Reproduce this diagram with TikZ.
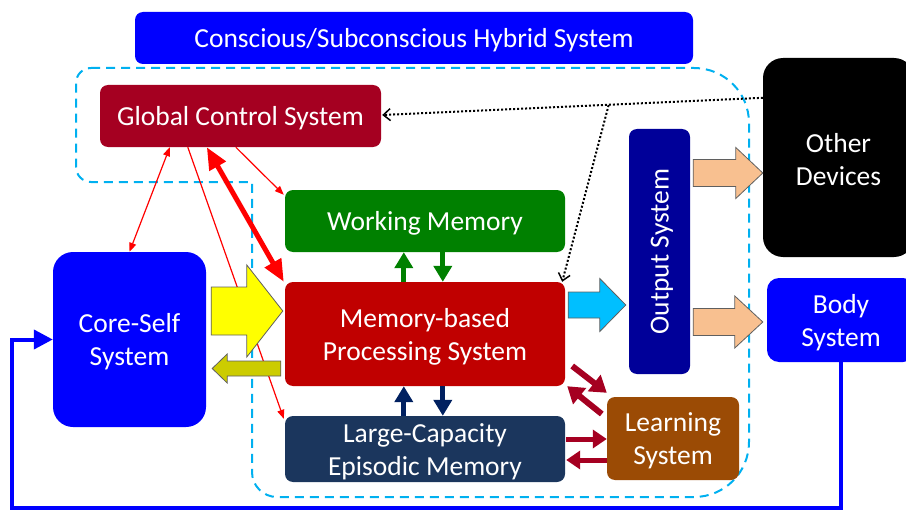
\documentclass[tikz,border=0pt]{standalone}
\usepackage{fontspec}
\setmainfont{Carlito}
\usetikzlibrary{calc,arrows.meta}

\definecolor{pureblue}{RGB}{0,0,255}
\definecolor{gcsred}{RGB}{165,0,33}
\definecolor{wmgreen}{RGB}{0,128,0}
\definecolor{mpred}{RGB}{192,0,0}
\definecolor{lcenavy}{RGB}{27,54,93}
\definecolor{lsbrown}{RGB}{155,75,5}
\definecolor{osblue}{RGB}{0,0,153}
\definecolor{dashcyan}{RGB}{0,176,240}
\definecolor{arrnavy}{RGB}{0,32,96}
\definecolor{yellowfill}{RGB}{255,255,0}
\definecolor{olivefill}{RGB}{204,204,0}
\definecolor{cyanfill}{RGB}{0,191,255}
\definecolor{peachfill}{RGB}{248,192,144}
\definecolor{arrborder}{RGB}{95,95,95}

% block arrow: style, tail point, tip point, body half-height, head half-height, head length
\newcommand\blockarrow[6]{%
  \draw[#1] let \p1=#2, \p2=#3, \n1={(\x2-\x1)/abs(\x2-\x1)} in
    (\x1,{\y1+#4pt}) -- ({\x2-\n1*#6pt},{\y1+#4pt}) -- ({\x2-\n1*#6pt},{\y1+#5pt})
    -- (\x2,\y1) -- ({\x2-\n1*#6pt},{\y1-#5pt}) -- ({\x2-\n1*#6pt},{\y1-#4pt})
    -- (\x1,{\y1-#4pt}) -- cycle;}

\tikzset{
  box/.style={rounded corners=8pt, inner sep=0pt},
  boxtext/.style={text=white, align=center, inner sep=0pt, yshift=-2.5pt,
    font=\fontsize{27.5}{33}\selectfont},
  thinred/.style={draw=red, line width=1.2pt},
  thinhead/.style={-{Triangle[length=9pt,width=7pt]}},
  fatarr/.style={line width=5pt},
  blockbase/.style={draw=arrborder, line width=0.8pt, line join=miter},
  dotline/.style={line width=2pt, dash pattern=on 2pt off 2pt},
  boundary/.style={draw=dashcyan, line width=2pt, dash pattern=on 9pt off 6pt},
}

\begin{document}
\begin{tikzpicture}[x=1pt,y=-1pt]
\useasboundingbox (0,0) rectangle (906,511);

% dashed boundary of the hybrid system
\draw[boundary] (91,68) -- (694,68)
  .. controls (724.4,68) and (749,92.6) .. (749,123) -- (749,442)
  .. controls (749,472.4) and (724.4,497) .. (694,497) -- (277,497)
  .. controls (263.2,497) and (252,485.8) .. (252,472) -- (252,182) -- (91,182)
  .. controls (82.7,182) and (76,175.3) .. (76,167) -- (76,83)
  .. controls (76,74.7) and (82.7,68) .. (91,68) -- cycle;

% boxes
\node[box, fill=pureblue, minimum width=558pt, minimum height=52pt,
  label={[boxtext]center:Conscious/Subconscious Hybrid System}] (title) at (414,38) {};
\node[box, fill=gcsred, minimum width=281pt, minimum height=62pt,
  label={[boxtext]center:Global Control System}] (gcs) at (240.5,116) {};
\node[box, fill=wmgreen, minimum width=280pt, minimum height=62pt,
  label={[boxtext]center:Working Memory}] (wm) at (425,221) {};
\node[box, fill=mpred, minimum width=280pt, minimum height=104pt,
  label={[boxtext]center:{Memory-based\\Processing System}}] (mp) at (425,334) {};
\node[box, fill=lcenavy, minimum width=280pt, minimum height=66pt,
  label={[boxtext]center:{Large-Capacity\\Episodic Memory}}] (lce) at (425,449) {};
\node[box, fill=lsbrown, minimum width=132pt, minimum height=83pt,
  label={[boxtext]center:{Learning\\System}}] (ls) at (673,438.5) {};
\node[box, fill=osblue, minimum width=61pt, minimum height=245pt,
  label={[boxtext, rotate=90, xshift=2.5pt, yshift=-2.5pt]center:Output System}] (os) at (659.5,251.5) {};
\node[box, rounded corners=20pt, fill=black, minimum width=151pt, minimum height=199pt,
  label={[boxtext]center:{Other\\Devices}}] (od) at (838.5,157.5) {};
\node[box, rounded corners=12pt, fill=pureblue, minimum width=148pt, minimum height=84pt,
  label={[boxtext]center:{Body\\System}}] (body) at (841,320) {};
\node[box, rounded corners=20pt, fill=pureblue, minimum width=153pt, minimum height=175pt,
  label={[boxtext]center:{Core-Self\\System}}] (core) at (129.5,339.5) {};

% feedback from the body to the core self
\coordinate (fbcorner) at (12,508);
\draw[pureblue, line width=4pt, -{Triangle[length=19pt,width=19pt]}]
  (body.south) |- (fbcorner) |- (core.west);

% dotted links from other devices
\coordinate (odout) at ($(od.north west)+(0,40)$);
\coordinate (dj) at ($(odout)!0.404!(gcs.east)$);
\draw[dotline, -{Straight Barb[length=7pt,width=12pt,line width=1.5pt]}]
  (odout) -- ($(gcs.east)+(1,-1)$);
\draw[dotline, -{Straight Barb[length=7pt,width=12pt,line width=1.5pt]}]
  (dj) -- ($(mp.north east)+(-3,0)$);

% control links from the global control system
\draw[thinred, {Triangle[length=9pt,width=7pt]}-{Triangle[length=9pt,width=7pt]}]
  ($(gcs.south west)+(70,0)$) -- (core.north);
\draw[thinred, thinhead] ($(gcs.south west)+(88,0)$) -- ($(lce.north west)+(-1,3)$);
\draw[red, fatarr, {Triangle[length=22pt,width=18pt]}-{Triangle[length=22pt,width=18pt]}]
  ($(gcs.south west)+(107,0)$) -- ($(mp.north west)+(-1,0)$);
\draw[thinred, thinhead] ($(gcs.south west)+(136,0)$) -- ($(wm.north west)+(-1,5)$);

% working memory <-> processing
\draw[wmgreen, fatarr, -{Triangle[length=16pt,width=18pt]}]
  ($(mp.north west)+(119,0)$) -- ($(wm.south west)+(119,0)$);
\draw[wmgreen, fatarr, -{Triangle[length=16pt,width=18pt]}]
  ($(wm.south west)+(158,0)$) -- ($(mp.north west)+(158,0)$);

% episodic memory <-> processing
\draw[arrnavy, fatarr, -{Triangle[length=16pt,width=18pt]}]
  ($(lce.north west)+(119,0)$) -- ($(mp.south west)+(119,0)$);
\draw[arrnavy, fatarr, -{Triangle[length=16pt,width=18pt]}]
  ($(mp.south west)+(158,0)$) -- ($(lce.north west)+(158,0)$);

% learning system links
\draw[gcsred, line width=6pt, -{Triangle[length=16pt,width=20pt]}]
  ($(mp.east)+(7,32)$) -- ($(ls.north west)+(0,-4)$);
\draw[gcsred, line width=6pt, -{Triangle[length=16pt,width=20pt]}]
  ($(ls.west)+(-5,-24.5)$) -- ($(mp.south east)+(2,0)$);
\draw[gcsred, line width=5pt, -{Triangle[length=14pt,width=18pt]}]
  ($(lce.east)+(1,-10)$) -- ($(ls.west)+(0,0.5)$);
\draw[gcsred, line width=5pt, -{Triangle[length=14pt,width=18pt]}]
  ($(ls.west)+(0,21.5)$) -- ($(lce.east)+(1,11)$);

% block arrows
\blockarrow{blockbase, fill=yellowfill}{($(core.east)+(5,-28.5)$)}{($(mp.west)+(-2,0)$)}{24}{46}{36}
\blockarrow{blockbase, fill=olivefill}{($(mp.west)+(-4,34.5)$)}{($(core.east)+(6,0)$)}{7.5}{14.5}{15}
\blockarrow{blockbase, fill=cyanfill}{($(mp.east)+(3,-29)$)}{($(os.west)+(-3,0)$)}{13}{26.5}{26}
\blockarrow{blockbase, fill=peachfill}{($(os.east)+(3,-78.5)$)}{(od.west)}{13.5}{25.5}{27}
\blockarrow{blockbase, fill=peachfill}{($(os.east)+(3,70.5)$)}{($(body.west)+(-4,0)$)}{13.5}{26}{28}
\end{tikzpicture}
\end{document}
